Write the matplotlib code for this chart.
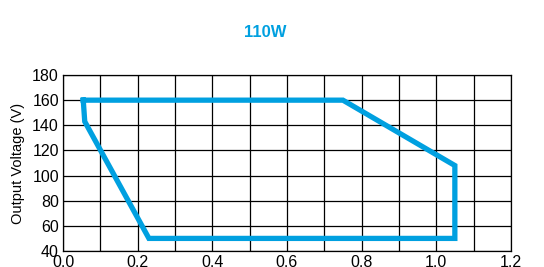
import matplotlib
matplotlib.use("Agg")
import matplotlib.pyplot as plt

# safe-operating-area outline for the 110W model
current = [0.054, 0.75, 1.05, 1.05, 0.23, 0.058, 0.054]
voltage = [160, 160, 108, 50, 50, 143, 160]

xgrid = [i / 10 for i in range(13)]
xlabels = ['%.1f' % t if i % 2 == 0 else '' for i, t in enumerate(xgrid)]
yticks = [40, 60, 80, 100, 120, 140, 160, 180]

plt.rcParams['font.family'] = ['Liberation Sans', 'DejaVu Sans']

fig = plt.figure(figsize=(5.44, 2.67), dpi=100)
ax = fig.add_axes([0.116, 0.06, 0.823, 0.659])

ax.plot(current, voltage, color='#00a0e0', lw=3.8, solid_joinstyle='miter', zorder=3)

ax.set_xlim(0, 1.2)
ax.set_ylim(40, 180)
ax.set_xticks(xgrid)
ax.set_xticklabels(xlabels)
ax.set_yticks(yticks)
ax.tick_params(length=0, labelsize=11.5, pad=3)
ax.grid(True, color='black', lw=0.9)
for s in ax.spines.values():
    s.set_color('black')
    s.set_linewidth(0.9)

ax.set_ylabel('Output Voltage (V)', fontsize=10.5, labelpad=5)
fig.text(0.487, 0.88, '110W', color='#00a0e0', fontsize=12, fontweight='bold', ha='center', va='center')

fig.savefig('out.png', dpi=100)
